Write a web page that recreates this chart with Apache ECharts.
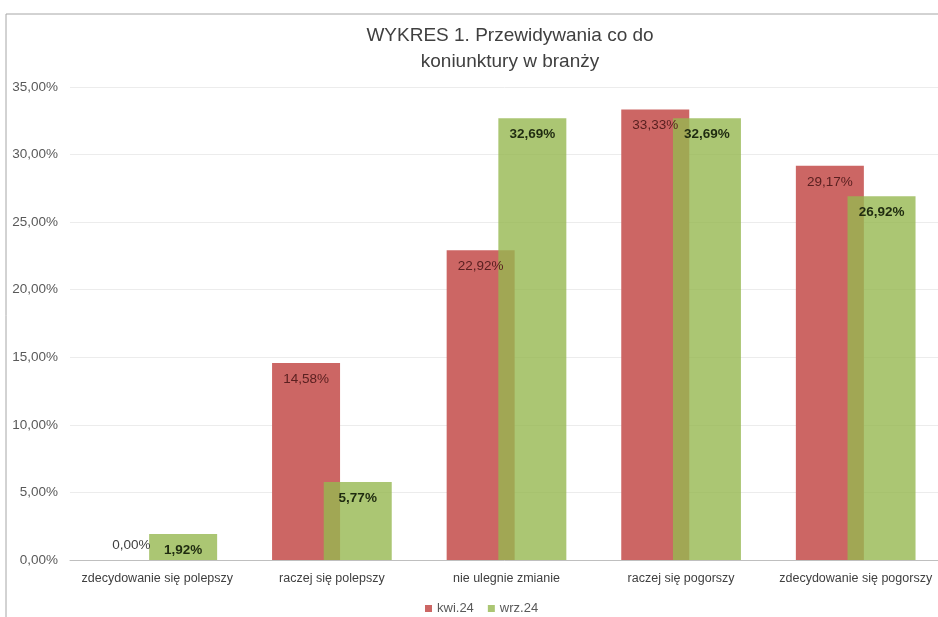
<!DOCTYPE html>
<html>
<head>
<meta charset="utf-8">
<script src="https://cdn.jsdelivr.net/npm/echarts@6/dist/echarts.min.js"></script>
<style>
  html, body { margin: 0; padding: 0; background: #fff; }
  #chart { width: 938px; height: 617px; }
</style>
</head>
<body>
<div id="chart"></div>
<script>
// dane z wykresu
var categories = ['zdecydowanie się polepszy', 'raczej się polepszy', 'nie ulegnie zmianie', 'raczej się pogorszy', 'zdecydowanie się pogorszy'];
var kwi24 = [0.00, 14.58, 22.92, 33.33, 29.17];
var wrz24 = [1.92, 5.77, 32.69, 32.69, 26.92];
var seriesNames = ['kwi.24', 'wrz.24'];

var FONT = 'Liberation Sans';

function pct(v) {
  return v.toFixed(2).replace('.', ',') + '%';
}

// zero nie zmiesci sie w slupku - etykieta nad osia
var kwiData = kwi24.map(function (v) {
  if (v === 0) {
    return { value: v, label: { position: 'top', distance: 8, color: '#404040' } };
  }
  return v;
});

var myChart = echarts.init(document.getElementById('chart'));

var options = {
  backgroundColor: '#fff',
  textStyle: { fontFamily: FONT },
  title: {
    text: 'WYKRES 1. Przewidywania co do\nkoniunktury w branży',
    left: 505,
    top: 18,
    textAlign: 'center',
    textStyle: { fontFamily: FONT, fontSize: 19, fontWeight: 'normal', color: '#404040', lineHeight: 26 }
  },
  legend: {
    data: seriesNames,
    left: 420,
    top: 597,
    icon: 'rect',
    itemWidth: 7,
    itemHeight: 7,
    itemGap: 14,
    textStyle: { fontFamily: FONT, fontSize: 13, color: '#595959' }
  },
  // wykres wychodzi poza prawa krawedz obrazka
  grid: { left: 70, width: 873, top: 87, bottom: 57, outerBoundsMode: 'none', containLabel: false },
  xAxis: {
    type: 'category',
    data: categories,
    axisLine: { lineStyle: { color: '#bfbfbf' } },
    axisTick: { show: false },
    axisLabel: { interval: 0, fontFamily: FONT, fontSize: 12.5, color: '#404040', margin: 12 }
  },
  yAxis: {
    type: 'value',
    min: 0,
    max: 35,
    interval: 5,
    axisLine: { show: false },
    axisTick: { show: false },
    splitLine: { lineStyle: { color: '#ececec' } },
    axisLabel: {
      fontFamily: FONT, fontSize: 13.5, color: '#595959', margin: 12,
      formatter: function (v) { return pct(v); }
    }
  },
  series: [
    {
      name: seriesNames[0],
      type: 'bar',
      data: kwiData,
      barWidth: 68,
      barGap: '-24%',
      itemStyle: { color: '#cc6664' },
      label: {
        show: true,
        position: 'insideTop',
        distance: 9,
        fontFamily: FONT,
        fontSize: 13.5,
        color: '#5a2020',
        formatter: function (p) { return pct(p.value); }
      }
    },
    {
      name: seriesNames[1],
      type: 'bar',
      data: wrz24,
      barWidth: 68,
      itemStyle: { color: 'rgba(150,184,80,0.8)' },
      label: {
        show: true,
        position: 'insideTop',
        distance: 9,
        fontFamily: FONT,
        fontSize: 13.5,
        fontWeight: 'bold',
        color: '#1f2b10',
        formatter: function (p) { return pct(p.value); }
      }
    }
  ],
  // ramka obrazka (gora i lewa strona)
  graphic: [
    { type: 'line', shape: { x1: 6, y1: 14, x2: 938, y2: 14 }, style: { stroke: '#a6a6a6', lineWidth: 1 } },
    { type: 'line', shape: { x1: 6, y1: 14, x2: 6, y2: 617 }, style: { stroke: '#a6a6a6', lineWidth: 1 } }
  ]
};

myChart.setOption(options);
window.addEventListener('resize', function () { myChart.resize(); });
</script>
</body>
</html>
